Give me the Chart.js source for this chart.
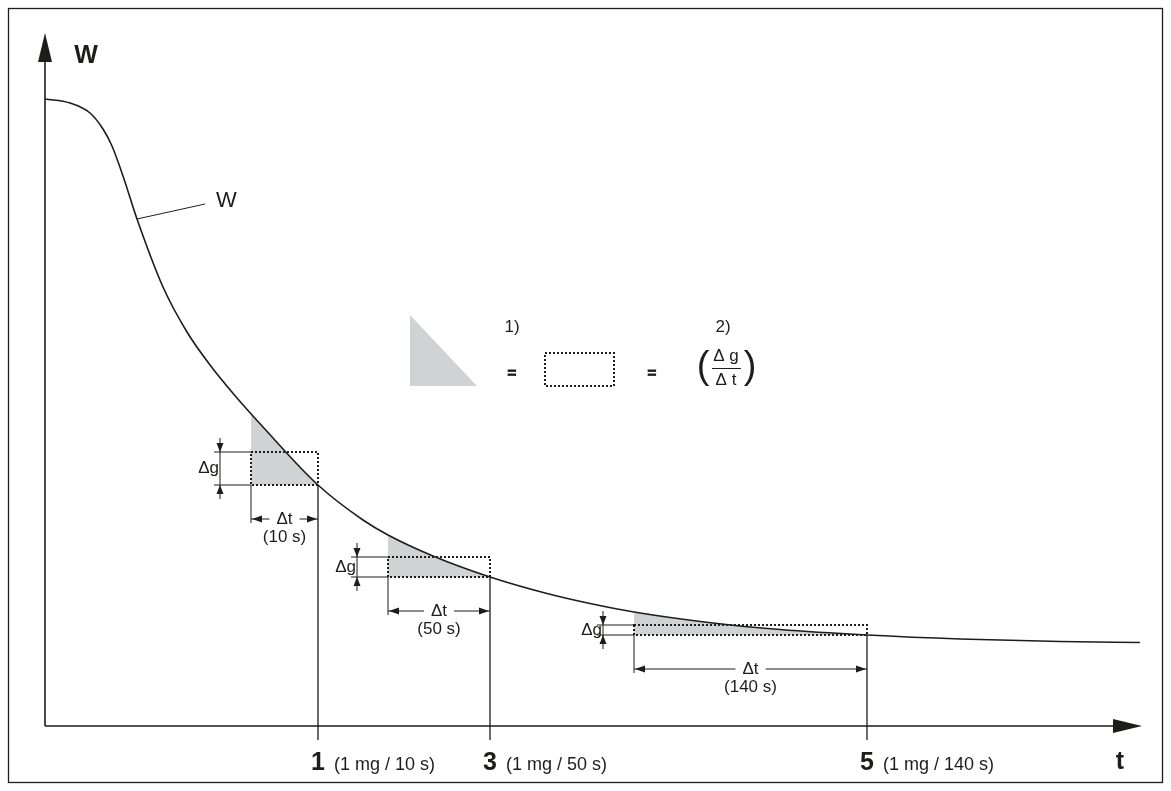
<!DOCTYPE html>
<html>
<head>
<meta charset="utf-8">
<script src="https://cdn.jsdelivr.net/npm/chart.js@4.4.1/dist/chart.umd.min.js"></script>
<style>
  html, body { margin: 0; padding: 0; background: #fff; }
  canvas { display: block; }
</style>
</head>
<body>
<canvas id="dryingChart" width="1171" height="791"></canvas>
<script>
// drying curve W(t) (arbitrary units)
const curveT = [0, 25, 45, 58, 67, 78, 92, 118, 142, 165, 192, 218, 273, 318, 343, 388, 445, 502, 545, 589, 668, 735, 822, 915, 1015, 1095];
const curveW = [627, 623, 613, 597, 580, 550, 507, 439, 394, 361, 328, 299, 241, 206, 191, 170, 149, 132.5, 122.5, 114, 103, 96.5, 91, 87, 84.5, 83.5];

// switch-off steps: rectangle from stepStart..stepEnd, stepLow..stepHigh
const stepStart = [206, 343, 589];
const stepEnd = [273, 445, 822];
const stepLow = [241, 149, 91];
const stepHigh = [274, 169, 101];

const stepLabels = ['1', '3', '5'];
const stepNotes = ['(1 mg / 10 s)', '(1 mg / 50 s)', '(1 mg / 140 s)'];
const dtNotes = ['(10 s)', '(50 s)', '(140 s)'];

const FONT = '"Liberation Sans", Arial, Helvetica, sans-serif';
const INK = '#1d1d1b';
const SHADE = '#d1d2d4';

function arrowHead(ctx, tx, ty, dx, dy, len, half) {
    // (dx, dy) is the unit direction the arrow points to
    const bx = tx - dx * len, by = ty - dy * len;
    ctx.beginPath();
    ctx.moveTo(tx, ty);
    ctx.lineTo(bx - dy * half, by + dx * half);
    ctx.lineTo(bx + dy * half, by - dx * half);
    ctx.closePath();
    ctx.fill();
}

function text(ctx, str, x, y, font, align, base) {
    ctx.font = font;
    ctx.textAlign = align || 'center';
    ctx.textBaseline = base || 'middle';
    ctx.fillText(str, x, y);
}

const shading = {
    id: 'shading',
    beforeDatasetsDraw(chart) {
        const {ctx, chartArea: area, scales: {x, y}} = chart;
        const line = chart.getDatasetMeta(0).dataset;
        line.updateControlPoints(area, 'x');
        const pts = line.points;
        stepStart.forEach((s, i) => {
            const x0 = x.getPixelForValue(s);
            const x1 = x.getPixelForValue(stepEnd[i]);
            const yb = y.getPixelForValue(stepLow[i]);
            ctx.save();
            ctx.beginPath();
            ctx.rect(x0, area.top, x1 - x0, yb - area.top);
            ctx.clip();
            ctx.beginPath();
            if (typeof line.path === 'function') {
                line.path(ctx);
            } else {
                pts.forEach((p, k) => k ? ctx.lineTo(p.x, p.y) : ctx.moveTo(p.x, p.y));
            }
            ctx.lineTo(pts[pts.length - 1].x, yb);
            ctx.lineTo(pts[0].x, yb);
            ctx.closePath();
            ctx.fillStyle = SHADE;
            ctx.fill();
            ctx.restore();
        });
    }
};

const drawing = {
    id: 'drawing',
    afterDatasetsDraw(chart) {
        const {ctx, chartArea: area, scales: {x, y}} = chart;
        ctx.save();
        ctx.strokeStyle = INK;
        ctx.fillStyle = INK;

        // frame
        ctx.lineWidth = 1.3;
        ctx.strokeRect(8.5, 8.5, chart.width - 17, chart.height - 17);

        // axes with arrows
        const ox = area.left, oy = area.bottom;
        ctx.lineWidth = 1.6;
        ctx.beginPath();
        ctx.moveTo(ox, oy);
        ctx.lineTo(ox, area.top + 30);
        ctx.moveTo(ox, oy);
        ctx.lineTo(area.right - 30, oy);
        ctx.stroke();
        arrowHead(ctx, ox, area.top + 7, 0, -1, 29, 7);
        arrowHead(ctx, area.right - 3, oy, 1, 0, 29, 7);
        text(ctx, 'W', ox + 41, area.top + 30, 'bold 25px ' + FONT);
        text(ctx, 't', 1120, 762, 'bold 25px ' + FONT);

        // curve label with leader
        const lx = x.getPixelForValue(curveT[6]), ly = y.getPixelForValue(curveW[6]);
        ctx.lineWidth = 1;
        ctx.beginPath();
        ctx.moveTo(lx, ly);
        ctx.lineTo(lx + 68, ly - 15);
        ctx.stroke();
        text(ctx, 'W', lx + 79, ly - 18, '22px ' + FONT, 'left');

        stepStart.forEach((s, i) => {
            const x0 = x.getPixelForValue(s);
            const x1 = x.getPixelForValue(stepEnd[i]);
            const yb = y.getPixelForValue(stepLow[i]);
            const yt = y.getPixelForValue(stepHigh[i]);

            // marker line down through the time axis
            ctx.lineWidth = 1.3;
            ctx.beginPath();
            ctx.moveTo(x1, yb);
            ctx.lineTo(x1, oy + 14);
            ctx.stroke();

            // dotted equivalent rectangle
            ctx.save();
            ctx.lineWidth = 2;
            ctx.setLineDash([2, 2]);
            ctx.strokeRect(x0, yt, x1 - x0, yb - yt);
            ctx.restore();

            // delta g dimension
            const dgx = x0 - 31;
            ctx.lineWidth = 1;
            ctx.beginPath();
            ctx.moveTo(dgx - 6, yt); ctx.lineTo(x0, yt);
            ctx.moveTo(dgx - 6, yb); ctx.lineTo(x0, yb);
            ctx.moveTo(dgx, yt - 14); ctx.lineTo(dgx, yb + 14);
            ctx.stroke();
            arrowHead(ctx, dgx, yt, 0, 1, 9, 3.5);
            arrowHead(ctx, dgx, yb, 0, -1, 9, 3.5);
            text(ctx, '\u0394g', dgx - 1, (yt + yb) / 2, '17px ' + FONT, 'right');

            // delta t dimension
            const ay = yb + 34;
            const mid = (x0 + x1) / 2;
            ctx.font = '17px ' + FONT;
            const gap = ctx.measureText('\u0394t').width / 2 + 7;
            ctx.beginPath();
            ctx.moveTo(x0, yb); ctx.lineTo(x0, ay + 4);
            ctx.moveTo(x0, ay); ctx.lineTo(mid - gap, ay);
            ctx.moveTo(mid + gap, ay); ctx.lineTo(x1, ay);
            ctx.stroke();
            arrowHead(ctx, x0 + 1, ay, -1, 0, 10, 3.5);
            arrowHead(ctx, x1 - 1, ay, 1, 0, 10, 3.5);
            text(ctx, '\u0394t', mid, ay, '17px ' + FONT);
            text(ctx, dtNotes[i], mid, ay + 18, '17px ' + FONT);

            // axis label
            ctx.font = 'bold 25px ' + FONT;
            const w = ctx.measureText(stepLabels[i]).width;
            text(ctx, stepLabels[i], x1, 770, 'bold 25px ' + FONT, 'center', 'alphabetic');
            text(ctx, stepNotes[i], x1 + w / 2 + 9, 770, '18px ' + FONT, 'left', 'alphabetic');
        });

        // legend: triangle = rectangle = (dg / dt)
        ctx.fillStyle = SHADE;
        ctx.beginPath();
        ctx.moveTo(410, 315);
        ctx.lineTo(410, 386);
        ctx.lineTo(477, 386);
        ctx.closePath();
        ctx.fill();
        ctx.fillStyle = INK;
        ctx.save();
        ctx.lineWidth = 2;
        ctx.setLineDash([2, 2]);
        ctx.strokeRect(545, 353, 69, 33);
        ctx.restore();
        text(ctx, '1)', 512, 327, '17px ' + FONT);
        text(ctx, '2)', 723, 327, '17px ' + FONT);
        ctx.lineWidth = 0.9;
        ['508', '648'].forEach(px => {
            text(ctx, '=', +px + 4, 374, 'bold 15px ' + FONT);
            ctx.strokeText('=', +px + 4, 374);
        });
        text(ctx, '(', 703, 368, '38px ' + FONT);
        text(ctx, ')', 750, 368, '38px ' + FONT);
        text(ctx, '\u0394 g', 726, 356, '17px ' + FONT);
        text(ctx, '\u0394 t', 726, 380, '17px ' + FONT);
        ctx.lineWidth = 1;
        ctx.beginPath();
        ctx.moveTo(712, 368.5);
        ctx.lineTo(741, 368.5);
        ctx.stroke();

        ctx.restore();
    }
};

const points = curveT.map((t, i) => ({x: t, y: curveW[i]}));

new Chart(document.getElementById('dryingChart'), {
    type: 'line',
    data: {
        datasets: [{
            data: points,
            borderColor: INK,
            borderWidth: 1.6,
            pointRadius: 0,
            cubicInterpolationMode: 'monotone',
            fill: false
        }]
    },
    options: {
        responsive: false,
        animation: false,
        devicePixelRatio: 1,
        layout: {
            padding: {left: 45, right: 26, top: 26, bottom: 65}
        },
        plugins: {
            legend: {display: false},
            tooltip: {enabled: false}
        },
        scales: {
            x: {type: 'linear', min: 0, max: 1100, display: false},
            y: {type: 'linear', min: 0, max: 700, display: false}
        }
    },
    plugins: [shading, drawing]
});
</script>
</body>
</html>
